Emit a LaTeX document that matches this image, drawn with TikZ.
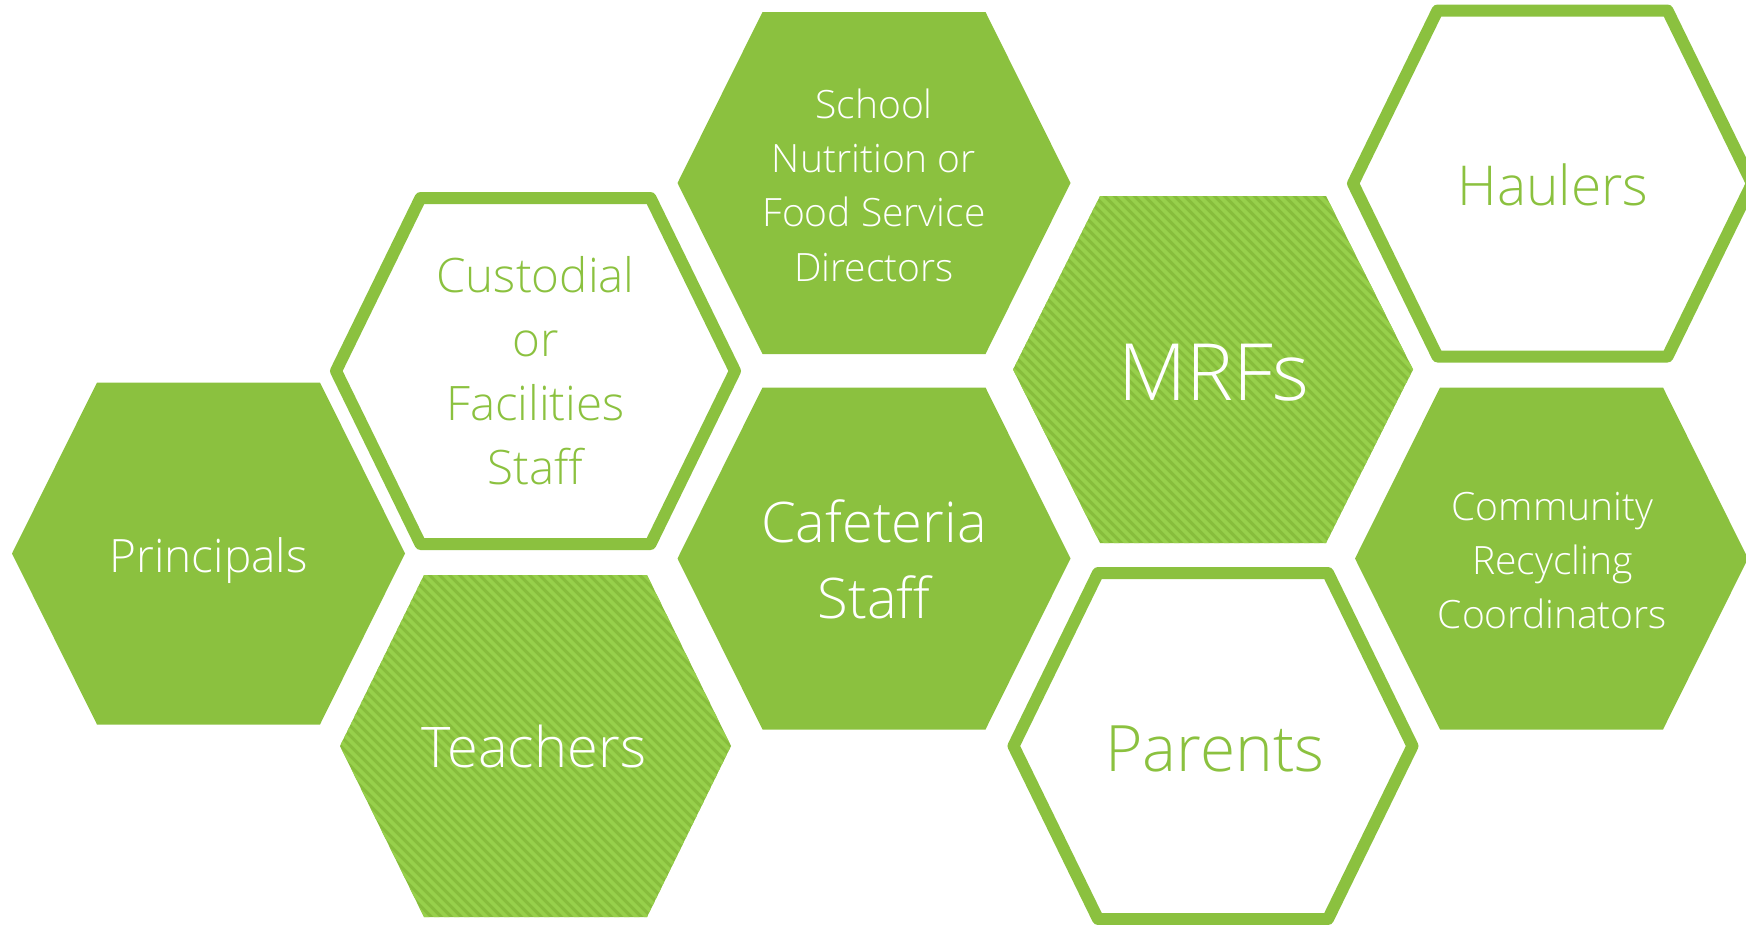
\documentclass[tikz,border=0pt]{standalone}
\usepackage{fontspec}
\setmainfont{Open Sans Light}
\definecolor{leaf}{HTML}{8BC13F}
\definecolor{leafdeep}{HTML}{87BD3C}
\definecolor{leaflight}{HTML}{97D04B}

% hexagon outline path: centre (#1,#2), half width #3, half height #4, half top edge #5
\newcommand{\hexoutline}[5]{%
  (#1-#3,#2) -- (#1-#5,#2-#4) -- (#1+#5,#2-#4) -- (#1+#3,#2)
  -- (#1+#5,#2+#4) -- (#1-#5,#2+#4) -- cycle}

% solid green cell
\newcommand{\solidcell}[2]{%
  \fill[leaf] \hexoutline{#1}{#2}{196.5}{171}{111.5};}

% white cell with a thick green rim
\newcommand{\rimcell}[2]{%
  \draw[leaf, line width=12pt, line join=round] \hexoutline{#1}{#2}{199.5}{173}{115};}

% green cell with light diagonal stripes
\newcommand{\stripecell}[5]{%
  \fill[leafdeep] \hexoutline{#1}{#2}{#3}{#4}{#5};
  \begin{scope}
    \clip \hexoutline{#1}{#2}{#3}{#4}{#5};
    \foreach \k in {-620,-610,...,620}
      \draw[leaflight, line width=3.8pt] (#1+\k-260,#2-260) -- (#1+\k+260,#2+260);
  \end{scope}}

% labels: the base anchor of a multi-line label sits on its last line
\tikzset{
  whitelbl/.style={text=white, align=center, anchor=base, inner sep=0pt},
  greenlbl/.style={text=leaf, align=center, anchor=base, inner sep=0pt},
}

\begin{document}
\begin{tikzpicture}[x=1pt, y=-1pt]
  \useasboundingbox (0,0) rectangle (1746,924);

  % cells
  \solidcell{208.5}{553.5}
  \rimcell{535.5}{371}
  \stripecell{535.5}{746}{195.5}{171}{111.5}
  \solidcell{874}{183}
  \solidcell{874}{558.5}
  \stripecell{1213}{369.5}{200}{173.5}{113}
  \rimcell{1213}{746}
  \rimcell{1552.5}{183.5}
  \solidcell{1551.5}{558.5}

  % labels
  \node[whitelbl, font=\fontsize{46}{60}\selectfont] (principals) at (208.5,572) {Principals};
  \node[greenlbl, font=\fontsize{47.5}{63.7}\selectfont] (custodial) at (535.5,484)
    {Custodial\\or\\Facilities\\Staff};
  \node[whitelbl, font=\fontsize{56}{70}\selectfont] (teachers) at (534,767) {Teachers};
  \node[whitelbl, font=\fontsize{39}{54.3}\selectfont] (nutrition) at (874,281)
    {School\\Nutrition or\\Food Service\\Directors};
  \node[whitelbl, font=\fontsize{56}{76}\selectfont] (cafeteria) at (874,618)
    {Cafeteria\\Staff};
  \node[whitelbl, font=\fontsize{79}{90}\selectfont] (mrfs) at (1214,400) {MRFs};
  \node[greenlbl, font=\fontsize{64}{76}\selectfont] (parents) at (1215,771) {Parents};
  \node[greenlbl, font=\fontsize{55}{66}\selectfont] (haulers) at (1553,205) {Haulers};
  \node[whitelbl, font=\fontsize{39}{54}\selectfont] (community) at (1552.5,628)
    {Community\\Recycling\\Coordinators};
\end{tikzpicture}
\end{document}
